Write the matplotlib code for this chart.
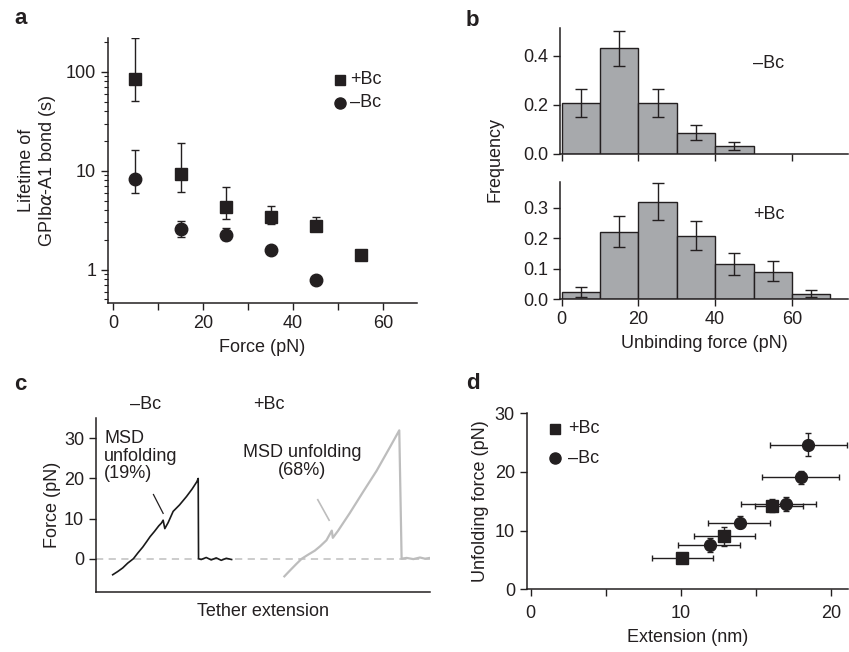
import matplotlib
matplotlib.use("Agg")
import matplotlib.pyplot as plt
import numpy as np

plt.rcParams['font.family'] = ['Liberation Sans', 'DejaVu Sans']
plt.rcParams['font.size'] = 13
ink = '#231f20'
plt.rcParams['text.color'] = ink
plt.rcParams['axes.labelcolor'] = ink
plt.rcParams['xtick.color'] = ink
plt.rcParams['ytick.color'] = ink
plt.rcParams['axes.edgecolor'] = ink

# ---- panel a: bond lifetime vs force
force_plus = [5, 15, 25, 35, 45, 55]
life_plus = [84, 9.3, 4.3, 3.4, 2.75, 1.42]
life_plus_lo = [51, 6.1, 3.25, 2.9, 2.5, 1.42]
life_plus_hi = [222, 19.3, 6.8, 4.4, 3.4, 1.42]

force_minus = [5, 15, 25, 35, 45]
life_minus = [8.2, 2.55, 2.25, 1.58, 0.79]
life_minus_lo = [5.95, 2.15, 2.0, 1.58, 0.79]
life_minus_hi = [16.2, 3.1, 2.65, 1.58, 0.79]

# ---- panel b: unbinding force histograms
bin_left = [0, 10, 20, 30, 40, 50, 60]
freq_minus = [0.207, 0.431, 0.21, 0.084, 0.034]
freq_minus_lo = [0.152, 0.357, 0.152, 0.057, 0.016]
freq_minus_hi = [0.265, 0.50, 0.265, 0.118, 0.05]
freq_plus = [0.022, 0.22, 0.32, 0.207, 0.115, 0.09, 0.016]
freq_plus_lo = [0.005, 0.172, 0.26, 0.161, 0.08, 0.059, 0.005]
freq_plus_hi = [0.038, 0.273, 0.382, 0.258, 0.15, 0.126, 0.028]

# ---- panel c: example force traces
trace_minus_x = [5.0, 6.5, 8.0, 9.5, 11.2, 12.5, 14.0, 15.2, 16.2, 17.5, 18.8, 19.6, 20.1,
                 20.6, 21.6, 23.1, 25.0, 27.1, 28.8, 30.2, 30.6, 30.7, 31.5, 33.0, 34.5,
                 36.0, 37.5, 39.0, 40.6]
trace_minus_y = [-4.0, -3.2, -2.3, -1.1, 0.0, 1.4, 2.9, 4.3, 5.5, 6.8, 8.2, 8.9, 9.6,
                 7.5, 9.0, 11.8, 13.4, 15.5, 17.4, 19.2, 20.0, 0.0, -0.2, 0.3, -0.3,
                 0.2, -0.4, 0.1, -0.2]
trace_plus_x = [56.4, 58.0, 60.0, 61.6, 63.5, 65.5, 67.1, 69.0, 70.6, 70.9, 72.5, 76.0,
                80.0, 84.0, 88.0, 90.8, 91.5, 93.0, 95.0, 97.0, 98.5, 100.0]
trace_plus_y = [-4.4, -3.0, -1.3, 0.0, 1.0, 2.0, 3.1, 4.6, 7.0, 5.2, 7.0, 11.4,
                16.7, 21.9, 27.8, 32.0, 0.0, 0.2, -0.1, 0.3, 0.0, 0.2]

# ---- panel d: unfolding force vs extension
ext_plus = [10.09, 12.88, 16.03]
ext_plus_lo = [8.05, 10.87, 14.93]
ext_plus_hi = [12.1, 14.93, 18.1]
uf_plus = [5.28, 9.08, 14.25]
uf_plus_lo = [5.0, 7.37, 13.1]
uf_plus_hi = [5.6, 10.66, 15.38]

ext_minus = [11.89, 13.93, 16.97, 17.96, 18.43]
ext_minus_lo = [9.82, 11.82, 13.97, 15.41, 15.88]
ext_minus_hi = [13.93, 15.92, 18.98, 20.53, 21.02]
uf_minus = [7.55, 11.35, 14.53, 19.08, 24.58]
uf_minus_lo = [6.41, 10.4, 13.34, 17.9, 22.7]
uf_minus_hi = [8.69, 12.5, 15.78, 20.2, 26.6]


def style_axes(ax):
    ax.spines['top'].set_visible(False)
    ax.spines['right'].set_visible(False)
    ax.spines['left'].set_linewidth(1.1)
    ax.spines['bottom'].set_linewidth(1.1)
    ax.tick_params(direction='out', length=5, width=1.0, labelsize=13)


def asym(v, lo, hi):
    v = np.array(v)
    return [v - np.array(lo), np.array(hi) - v]


fig = plt.figure(figsize=(8.49, 6.52), dpi=100)
W, H = 849.0, 652.0


def add_ax(x0, y0, x1, y1):
    # pixel box -> figure fraction
    return fig.add_axes([x0 / W, 1 - y1 / H, (x1 - x0) / W, (y1 - y0) / H])


# ================= a
ax = add_ax(108, 38, 417, 303)
style_axes(ax)
ax.set_yscale('log')
ax.errorbar(force_plus, life_plus, yerr=asym(life_plus, life_plus_lo, life_plus_hi),
            fmt='s', ms=8.5, color=ink, ecolor=ink, elinewidth=1.0, capsize=3, capthick=1.0)
ax.errorbar(force_minus, life_minus, yerr=asym(life_minus, life_minus_lo, life_minus_hi),
            fmt='o', ms=9, color=ink, ecolor=ink, elinewidth=1.0, capsize=3, capthick=1.0)
ax.set_xlim(-1.1, 67.5)
ax.set_ylim(0.46, 220)
ax.set_xticks([0, 10, 20, 30, 40, 50, 60])
ax.set_xticklabels(['0', '', '20', '', '40', '', '60'])
ax.set_yticks([1, 10, 100])
ax.set_yticklabels(['1', '10', '100'])
ax.tick_params(axis='y', which='minor', length=3, width=0.8)
ax.set_xlabel('Force (pN)', labelpad=5)
ax.set_ylabel('Lifetime of\nGPIb$\\alpha$-A1 bond (s)', labelpad=6, linespacing=1.1)
lx = (340 - 113) / 4.5
ax.plot([lx], [10 ** (2 - (80 - 72) / 99.0)], 's', ms=7, color=ink)
ax.plot([lx], [10 ** (2 - (103 - 72) / 99.0)], 'o', ms=8, color=ink)
ax.text(lx + 2.2, 10 ** (2 - (80 - 72) / 99.0), '+Bc', va='center')
ax.text(lx + 2.2, 10 ** (2 - (103 - 72) / 99.0), '\u2013Bc', va='center')

# ================= b
bx_top = add_ax(560, 28, 848, 154)
bx_bot = add_ax(560, 181.7, 848, 299)
bar_color = '#a7a9ac'
for bx, freq, lo, hi, lab, ymax, yt in [
        (bx_top, freq_minus, freq_minus_lo, freq_minus_hi, '\u2013Bc', 0.514, [0.0, 0.2, 0.4]),
        (bx_bot, freq_plus, freq_plus_lo, freq_plus_hi, '+Bc', 0.386, [0.0, 0.1, 0.2, 0.3])]:
    style_axes(bx)
    n = len(freq)
    centers = np.array(bin_left[:n]) + 5
    bx.bar(bin_left[:n], freq, width=10, align='edge', color=bar_color,
           edgecolor=ink, linewidth=1.0)
    bx.errorbar(centers, freq, yerr=asym(freq, lo, hi), fmt='none', ecolor=ink,
                elinewidth=1.0, capsize=4.5, capthick=1.0)
    bx.set_xlim(-0.4, 74.6)
    bx.set_ylim(0, ymax)
    bx.set_yticks(yt)
    bx.set_yticklabels(['%.1f' % v for v in yt])
    bx.set_xticks([0, 20, 40, 60])
    bx.text(0.67, 0.72, lab, transform=bx.transAxes, va='center')
bx_top.set_xticklabels([])
bx_bot.set_xlabel('Unbinding force (pN)', labelpad=5)
fig.text(495 / W, 1 - 160 / H, 'Frequency', rotation=90, ha='center', va='center')

# ================= c
cx = add_ax(96, 418.3, 430, 592)
style_axes(cx)
cx.axhline(0, color='#c8c8c8', lw=1.3, ls=(0, (4, 3)), zorder=1)
cx.plot(trace_minus_x, trace_minus_y, color='#1a1a1a', lw=1.2, zorder=3)
cx.plot(trace_plus_x, trace_plus_y, color='#bdbdbd', lw=1.6, zorder=2)
cx.set_xlim(0, 100)
cx.set_ylim(-8.3, 35)
cx.set_xticks([])
cx.set_yticks([0, 10, 20, 30])
cx.set_xlabel('Tether extension', labelpad=8)
cx.set_ylabel('Force (pN)', labelpad=2)
cx.text(10.3, 38.5, '\u2013Bc', va='center', clip_on=False)
cx.text(47, 38.5, '+Bc', va='center', clip_on=False)
cx.text(2.5, 25.6, 'MSD\nunfolding\n(19%)', va='center', ha='left', linespacing=1.05)
cx.plot([17.2, 20.1], [16.0, 11.3], color=ink, lw=0.9)
cx.text(61.8, 24.3, 'MSD unfolding\n(68%)', va='center', ha='center', linespacing=1.05)
cx.plot([66.4, 69.8], [14.7, 9.6], color='#bdbdbd', lw=1.2)

# ================= d
dx = add_ax(526.7, 413.3, 848, 589.3)
style_axes(dx)
dx.errorbar(ext_plus, uf_plus, xerr=asym(ext_plus, ext_plus_lo, ext_plus_hi),
            yerr=asym(uf_plus, uf_plus_lo, uf_plus_hi), fmt='s', ms=8, color=ink,
            ecolor=ink, elinewidth=1.0, capsize=2.5, capthick=1.0)
dx.errorbar(ext_minus, uf_minus, xerr=asym(ext_minus, ext_minus_lo, ext_minus_hi),
            yerr=asym(uf_minus, uf_minus_lo, uf_minus_hi), fmt='o', ms=8.5, color=ink,
            ecolor=ink, elinewidth=1.0, capsize=2.5, capthick=1.0)
dx.set_xlim(-0.27, 21.1)
dx.set_ylim(0, 30)
dx.set_xticks([0, 5, 10, 15, 20])
dx.set_xticklabels(['0', '', '10', '', '20'])
dx.set_yticks([0, 10, 20, 30])
dx.tick_params(axis='x', pad=6)
dx.set_xlabel('Extension (nm)', labelpad=5)
dx.set_ylabel('Unfolding force (pN)', labelpad=4)
dx.plot([1.6], [27.4], 's', ms=7, color=ink, clip_on=False)
dx.plot([1.6], [22.3], 'o', ms=8, color=ink, clip_on=False)
dx.text(2.5, 27.4, '+Bc', va='center')
dx.text(2.5, 22.3, '\u2013Bc', va='center')

# panel letters
for lab, px, py in [('a', 14, 18), ('b', 466, 20), ('c', 14, 385), ('d', 466, 383)]:
    fig.text(px / W, 1 - py / H, lab, fontsize=16, fontweight='bold', va='center',
             ha='left')

fig.savefig('out.png', dpi=100)
